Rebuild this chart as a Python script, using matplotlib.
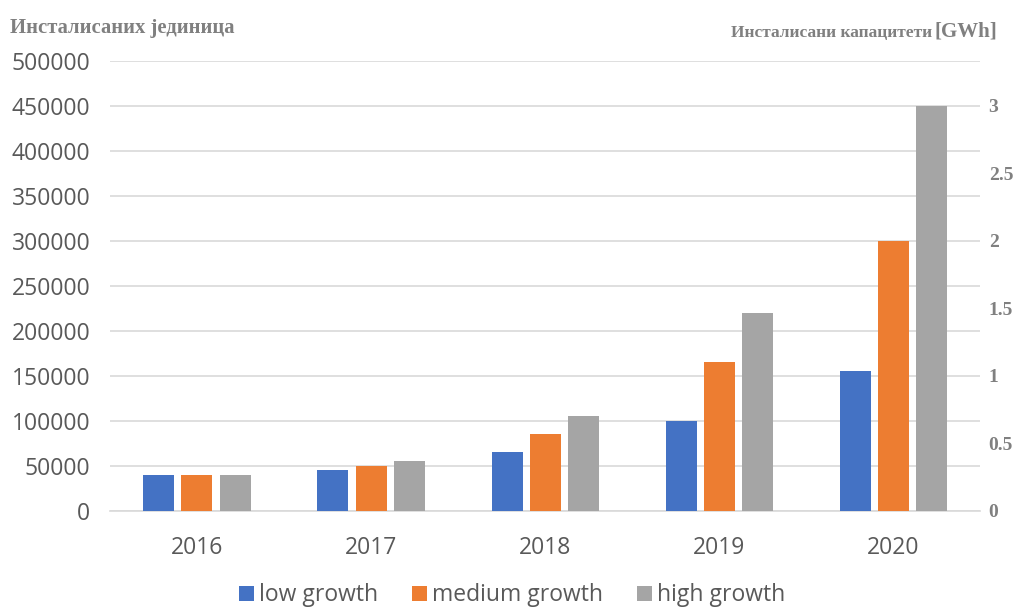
import matplotlib
matplotlib.use("Agg")
import matplotlib.pyplot as plt
import numpy as np

years = ["2016", "2017", "2018", "2019", "2020"]
low_growth = [40000, 45000, 65000, 100000, 155000]
medium_growth = [40000, 50000, 85000, 165000, 300000]
high_growth = [40000, 55000, 105000, 220000, 450000]
series_names = ["low growth", "medium growth", "high growth"]

left_ticks = [0, 50000, 100000, 150000, 200000, 250000, 300000, 350000, 400000, 450000, 500000]
right_ticks = [0, 0.5, 1, 1.5, 2, 2.5, 3]
units_per_gwh = 150000  # 3 GWh lines up with 450000 units

colors = ["#4472C4", "#ED7D31", "#A5A5A5"]
grid_color = "#D9D9D9"
label_color = "#595959"
title_color = "#808080"

fig = plt.figure(figsize=(10.18, 6.10), dpi=100)
ax = fig.add_axes([0.108, 0.1623, 0.855, 0.7377])

x = np.arange(len(years))
width = 0.178
step = 0.219
for i, (vals, name) in enumerate(zip([low_growth, medium_growth, high_growth], series_names)):
    ax.bar(x + (i - 1) * step, vals, width, color=colors[i], label=name, zorder=3)

ax.set_xlim(-0.5, len(years) - 0.5)
ax.set_ylim(0, 500000)
ax.set_yticks(left_ticks)
ax.set_yticklabels([str(t) for t in left_ticks])
ax.set_xticks(x)
ax.set_xticklabels(years)
ax.yaxis.grid(True, color=grid_color, linewidth=1.2, zorder=0)
ax.set_axisbelow(True)
for s in ["top", "right", "left"]:
    ax.spines[s].set_visible(False)
ax.spines["bottom"].set_color(grid_color)
ax.spines["bottom"].set_linewidth(1.2)
ax.tick_params(axis="both", length=0, labelcolor=label_color, labelsize=16.5)
ax.tick_params(axis="y", pad=14)
ax.tick_params(axis="x", pad=18)
for lab in ax.get_xticklabels() + ax.get_yticklabels():
    lab.set_fontfamily("Open Sans")

# secondary axis in GWh
ax2 = ax.twinx()
ax2.set_ylim(0, 500000 / units_per_gwh)
ax2.set_yticks(right_ticks)
ax2.set_yticklabels([f"{t:g}" for t in right_ticks])
for s in ax2.spines.values():
    s.set_visible(False)
ax2.tick_params(axis="y", length=0, pad=6, labelsize=14, labelcolor=title_color)
for lab in ax2.get_yticklabels():
    lab.set_fontfamily("Liberation Serif")
    lab.set_fontweight("bold")

serif_bold = dict(fontweight="bold", family="Liberation Serif", color=title_color, va="baseline")
fig.text(0.010, 0.946, "Инсталисаних јединица", fontsize=14.9, ha="left", **serif_bold)

# right axis title: unit in a larger size, placed just after the words
unit = fig.text(0.980, 0.940, "[GWh]", fontsize=15, ha="right", **serif_bold)
fig.canvas.draw()
unit_box = unit.get_window_extent().transformed(fig.transFigure.inverted())
fig.text(unit_box.x0 - 0.003, 0.940, "Инсталисани капацитети", fontsize=12.5, ha="right", **serif_bold)

fig.legend(loc="center", bbox_to_anchor=(0.503, 0.024), ncol=3, frameon=False,
           prop={"family": "Open Sans", "size": 16.5}, labelcolor=label_color,
           handlelength=0.65, handleheight=0.65, handletextpad=0.2, columnspacing=1.5)

fig.savefig("out.png", dpi=100)
